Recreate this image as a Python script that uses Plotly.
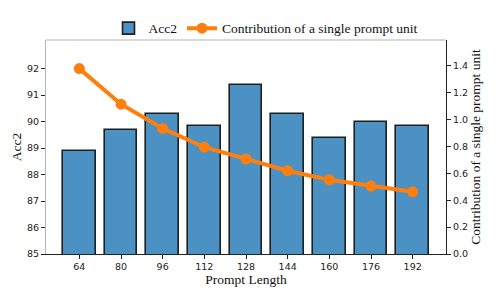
import plotly.graph_objects as go

prompt_lengths = ["64", "80", "96", "112", "128", "144", "160", "176", "192"]
acc2 = [88.9, 89.67, 90.29, 89.82, 91.37, 90.28, 89.38, 89.98, 89.82]
contribution = [1.38, 1.115, 0.935, 0.795, 0.708, 0.62, 0.552, 0.506, 0.463]

idx = list(range(len(prompt_lengths)))

fig = go.Figure()
fig.add_trace(go.Bar(
    x=idx, y=acc2, name="Acc2", width=0.78, yaxis="y",
    marker=dict(color="#4b91c3", line=dict(color="#1f1f1f", width=1.6)),
))
fig.add_trace(go.Scatter(
    x=idx, y=contribution, name="Contribution of a single prompt unit",
    mode="lines+markers", yaxis="y2",
    line=dict(color="#ff7f0e", width=4),
    marker=dict(color="#ff7f0e", size=11),
))

serif = "Liberation Serif, Times New Roman, serif"
sans = "DejaVu Sans, sans-serif"

fig.update_layout(
    width=498, height=297,
    margin=dict(l=46, r=52, t=40, b=43, autoexpand=False),
    plot_bgcolor="white", paper_bgcolor="white",
    bargap=0,
    legend=dict(orientation="h", x=0.55, xanchor="center", y=0.982, yanchor="bottom",
                font=dict(family=serif, size=13.5, color="#111"),
                bgcolor="rgba(0,0,0,0)", itemwidth=30),
    showlegend=True,
    shapes=[dict(type="line", xref="paper", yref="paper", x0=0, x1=1, y0=1, y1=1,
                 line=dict(color="#b5b5b5", width=1.2))],
    xaxis=dict(
        domain=[0, 1],
        range=[-0.8, 8.8], tickvals=idx, ticktext=prompt_lengths, automargin=False,
        showgrid=False, showline=True, linecolor="#222", linewidth=1,
        ticks="outside", ticklen=4, tickcolor="#222",
        tickfont=dict(family=sans, size=9.5, color="#222"),
        title=dict(text="Prompt Length", font=dict(family=serif, size=13.5, color="#111"), standoff=0),
    ),
    yaxis=dict(
        domain=[0, 1],
        range=[85, 93.08], tickvals=[85, 86, 87, 88, 89, 90, 91, 92], automargin=False,
        showgrid=False, showline=True, linecolor="#b5b5b5", linewidth=1.2,
        ticks="outside", ticklen=4, tickcolor="#222",
        tickfont=dict(family=sans, size=9.5, color="#222"),
        title=dict(text="Acc2", font=dict(family=serif, size=13.5, color="#111"), standoff=2),
        zeroline=False,
    ),
    yaxis2=dict(
        overlaying="y", side="right", anchor="x",
        range=[0, 1.593], tickvals=[0, 0.2, 0.4, 0.6, 0.8, 1.0, 1.2, 1.4], tickformat=".1f", automargin=False,
        showgrid=False, showline=True, linecolor="#222", linewidth=1,
        ticks="outside", ticklen=4, tickcolor="#222",
        tickfont=dict(family=sans, size=9.5, color="#222"),
        title=dict(text="Contribution of a single prompt unit", font=dict(family=serif, size=13.5, color="#111"), standoff=0),
        zeroline=False,
    ),
)

fig.write_html("out.html", config={"displayModeBar": False},
               post_script="document.body.style.margin='0';document.body.style.padding='0';")
